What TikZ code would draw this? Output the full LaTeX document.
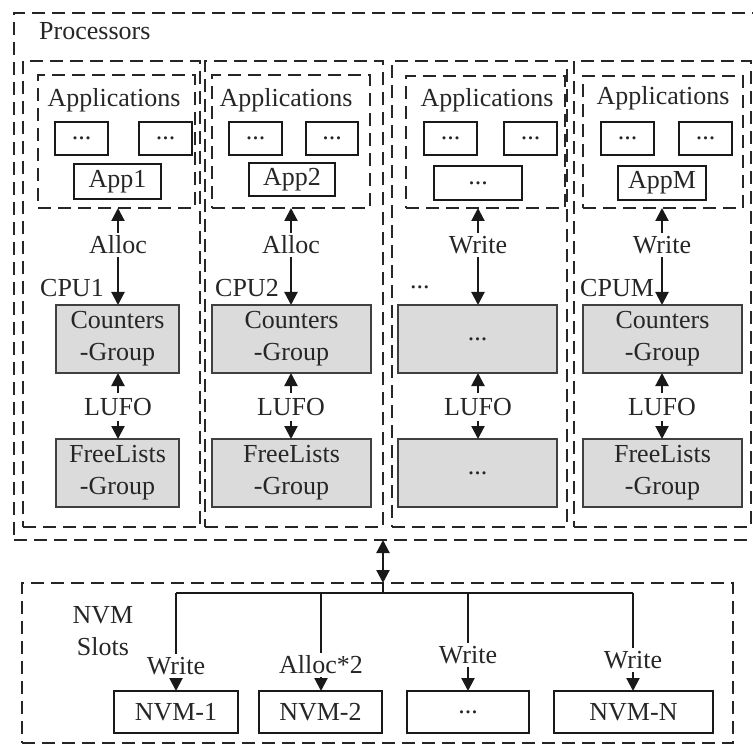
\documentclass[tikz,border=0pt]{standalone}
\usepackage{fontspec}
\setmainfont{Liberation Serif}
\usetikzlibrary{arrows.meta}
\newcommand\placebox[7]{\node[#2, minimum width={(#5-#3)*1pt}, minimum height={(#6-#4)*1pt}] (#1) at ({(#3+#5)/2},{(#4+#6)/2}) {#7};}
\tikzset{
  dbox/.style={draw=black!85, dash pattern=on 13pt off 7pt, line width=2.2pt, inner sep=0pt, outer sep=0pt},
  wbox/.style={draw=black!90, line width=2.4pt, fill=white, inner sep=0pt, outer sep=0pt, text=black!85},
  gbox/.style={draw=black!75, line width=2.4pt, fill=black!14, inner sep=0pt, outer sep=0pt, align=center, text=black!85},
  lbl/.style={inner sep=3pt, text=black!85},
  arr/.style={line width=2.2pt, draw=black!90, -{Triangle[length=13pt,width=13pt]}},
  busline/.style={line width=2.2pt, draw=black!90},
}
\begin{document}
\begin{tikzpicture}[x=1pt,y=-1pt,font=\fontsize{26}{32}\selectfont]
\useasboundingbox (0,0) rectangle (753,746);
% outer boxes
\placebox{proc}{dbox}{14}{13}{766}{540}{}
\node[lbl, anchor=west] (proct) at (36,31) {Processors};
\placebox{cpu1}{dbox}{23}{61}{200}{527}{}
\placebox{cpu2}{dbox}{205}{61}{383}{527}{}
\placebox{cpu3}{dbox}{392}{61}{567}{527}{}
\placebox{cpu4}{dbox}{574}{61}{751}{527}{}
% application groups
\placebox{a1}{dbox}{38}{75}{195}{208}{}
\placebox{a2}{dbox}{212}{75}{370}{208}{}
\placebox{a3}{dbox}{406}{76}{565}{208}{}
\placebox{a4}{dbox}{583}{76}{743}{208}{}
\node[lbl] (at1) at (114,100) {Applications};
\node[lbl] (at2) at (286,100) {Applications};
\node[lbl] (at3) at (487,100) {Applications};
\node[lbl] (at4) at (663,98) {Applications};
% small app boxes
\placebox{s11}{wbox}{55}{122}{108}{155}{...}
\placebox{s12}{wbox}{139}{122}{192}{155}{...}
\placebox{app1}{wbox}{74}{164}{161}{199}{App1}
\placebox{s21}{wbox}{229}{122}{282}{155}{...}
\placebox{s22}{wbox}{306}{122}{358}{155}{...}
\placebox{app2}{wbox}{249}{163}{335}{196}{App2}
\placebox{s31}{wbox}{424}{122}{477}{155}{...}
\placebox{s32}{wbox}{504}{122}{557}{155}{...}
\placebox{app3}{wbox}{434}{166}{522}{200}{...}
\placebox{s41}{wbox}{601}{122}{654}{155}{...}
\placebox{s42}{wbox}{679}{122}{732}{155}{...}
\placebox{app4}{wbox}{618}{166}{706}{200}{AppM}
% grey groups
\placebox{c1}{gbox}{56}{305}{179}{373}{Counters\\-Group}
\placebox{f1}{gbox}{56}{439}{179}{507}{FreeLists\\-Group}
\placebox{c2}{gbox}{212}{305}{371}{373}{Counters\\-Group}
\placebox{f2}{gbox}{212}{439}{371}{507}{FreeLists\\-Group}
\placebox{c3}{gbox}{398}{305}{557}{373}{...}
\placebox{f3}{gbox}{398}{439}{557}{507}{...}
\placebox{c4}{gbox}{583}{305}{742}{373}{Counters\\-Group}
\placebox{f4}{gbox}{583}{439}{742}{507}{FreeLists\\-Group}
% cpu labels
\node[lbl, anchor=west] (cl1) at (37,288) {CPU1};
\node[lbl, anchor=west] (cl2) at (212,288) {CPU2};
\node[lbl, anchor=west] (cl3) at (407,287) {...};
\node[lbl, anchor=west] (cl4) at (577,288) {CPUM};
% alloc / write arrows
\node[lbl] (al1) at (118,245) {Alloc};
\node[lbl] (al2) at (291,245) {Alloc};
\node[lbl] (al3) at (478,245) {Write};
\node[lbl] (al4) at (662,245) {Write};
\foreach \i in {1,2,3,4}{
  \draw[arr] (al\i.north) -- (al\i.north |- a\i.south);
  \draw[arr] (al\i.south) -- (al\i.south |- c\i.north);
}
% LUFO
\node[lbl, inner sep=5pt] (lu1) at (118,407) {LUFO};
\node[lbl, inner sep=5pt] (lu2) at (291,407) {LUFO};
\node[lbl, inner sep=5pt] (lu3) at (478,407) {LUFO};
\node[lbl, inner sep=5pt] (lu4) at (662,407) {LUFO};
\foreach \i in {1,2,3,4}{
  \draw[arr] (lu\i.north) -- (lu\i.north |- c\i.south);
  \draw[arr] (lu\i.south) -- (lu\i.south |- f\i.north);
}
% NVM
\placebox{nvm}{dbox}{22}{583}{733}{743}{}
\node[lbl, align=center] (nvmt) at (103,631) {NVM\\Slots};
\placebox{n1}{wbox}{114}{691}{238}{733}{NVM-1}
\placebox{n2}{wbox}{259}{691}{382}{733}{NVM-2}
\placebox{n3}{wbox}{407}{691}{529}{733}{...}
\placebox{n4}{wbox}{554}{691}{713}{733}{NVM-N}
\node[lbl] (w1) at (176,666) {Write};
\node[lbl] (w2) at (321,665) {Alloc*2};
\node[lbl] (w3) at (468,655) {Write};
\node[lbl] (w4) at (633,660) {Write};
\coordinate (bl) at (176,593);
\coordinate (br) at (633,593);
\coordinate (bc) at (383,593);
\draw[busline] (bl) -- (br);
\foreach \i in {1,2,3,4}{
  \draw[busline] (w\i.north |- bl) -- (w\i.north);
  \draw[arr] (w\i.south) -- (w\i.south |- n\i.north);
}
\draw[arr, {Triangle[length=13pt,width=13pt]}-{Triangle[length=13pt,width=13pt]}] (bc |- proc.south) -- (bc |- nvm.north);
\draw[busline] (bc |- nvm.north) -- (bc);
\end{tikzpicture}
\end{document}
